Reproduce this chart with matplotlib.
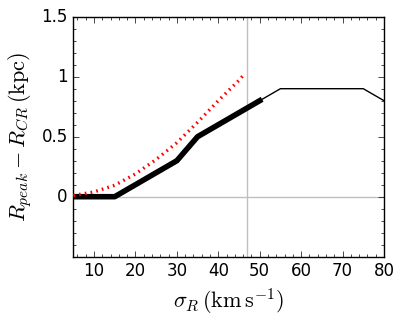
import matplotlib
matplotlib.use("Agg")
import matplotlib.pyplot as plt
from matplotlib.ticker import MultipleLocator

plt.style.use("classic")
plt.rcParams["mathtext.fontset"] = "cm"
plt.rcParams["lines.scale_dashes"] = False

# data
sigma_full = [5, 15, 30, 35, 50, 55, 75, 80]
dr_full = [0.0, 0.0, 0.3, 0.5, 0.8, 0.9, 0.9, 0.8]
sigma_thick = [5, 15, 30, 35, 50]
dr_thick = [0.0, 0.0, 0.3, 0.5, 0.8]
sigma_red = [5, 10, 15, 20, 25, 30, 35, 40, 45, 46]
dr_red = [0.01, 0.04, 0.095, 0.19, 0.31, 0.45, 0.62, 0.80, 0.97, 1.01]
vline_x = 47
yticks = [-0.5, 0, 0.5, 1, 1.5]
yticklabels = ["", "0", "0.5", "1", "1.5"]
xticks = [10, 20, 30, 40, 50, 60, 70, 80]

fig = plt.figure(figsize=(4.04, 3.21), dpi=100, facecolor="white")
ax = fig.add_axes([73.3 / 404, 1 - 256.7 / 321, 310.7 / 404, 240 / 321])

ax.axhline(0, color="0.75", lw=1, zorder=1)
ax.axvline(vline_x, color="0.75", lw=1, zorder=1)
ax.plot(sigma_full, dr_full, color="black", lw=1, zorder=2)
ax.plot(sigma_thick, dr_thick, color="black", lw=4, zorder=3)
red, = ax.plot(sigma_red, dr_red, color="red", lw=2.4, zorder=4)
red.set_dashes([1.2, 3.0])
red.set_dash_capstyle("butt")

ax.set_xlim(5, 80)
ax.set_ylim(-0.5, 1.5)
ax.set_xticks(xticks)
ax.set_xticklabels([str(v) for v in xticks])
ax.set_yticks(yticks)
ax.set_yticklabels(yticklabels)
ax.xaxis.set_minor_locator(MultipleLocator(2))
ax.yaxis.set_minor_locator(MultipleLocator(0.1))
ax.tick_params(which="both", direction="in", top=True, right=True, labelsize=12)
ax.tick_params(which="major", length=4)
ax.tick_params(which="minor", length=2)

ax.set_xlabel(r"$\sigma_R\,(\mathrm{km\,s^{-1}})$", fontsize=16)
ax.set_ylabel(r"$R_{peak}-R_{CR}\,(\mathrm{kpc})$", fontsize=16)

fig.savefig("out.png", dpi=100, facecolor="white")
